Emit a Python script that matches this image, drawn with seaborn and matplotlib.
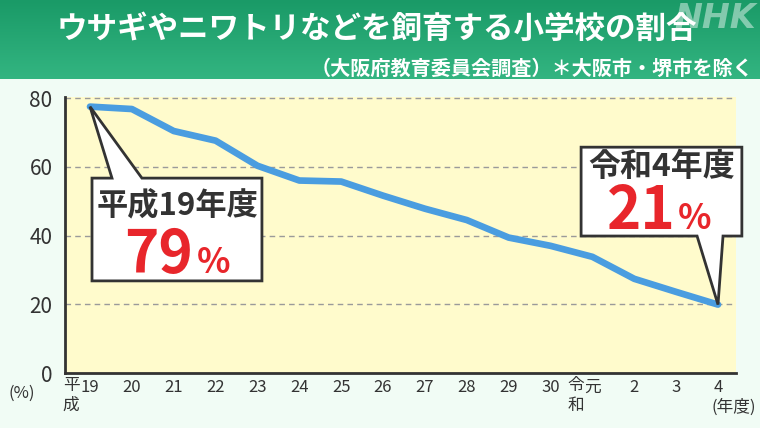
import numpy as np
import pandas as pd
import matplotlib
matplotlib.use("Agg")
import matplotlib.pyplot as plt
from matplotlib.patches import Polygon
from matplotlib.colors import LinearSegmentedColormap
import seaborn as sns

# ---- data ----
years = ["19", "20", "21", "22", "23", "24", "25", "26", "27", "28", "29", "30", "元", "2", "3", "4"]
share = [77.5, 76.8, 70.4, 67.6, 60.3, 56.0, 55.7, 51.6, 47.8, 44.5, 39.4, 37.0, 33.8, 27.4, 23.6, 19.9]
yticks = [0, 20, 40, 60, 80]
title = "ウサギやニワトリなどを飼育する小学校の割合"
subtitle = "（大阪府教育委員会調査）＊大阪市・堺市を除く"
first_label, first_value = "平成19年度", "79"
last_label, last_value = "令和4年度", "21"

df = pd.DataFrame({"idx": np.arange(len(years)), "share": share})

sns.set_theme(style="white")
plt.rcParams["font.family"] = ["Noto Sans CJK JP", "DejaVu Sans"]

W, H = 760, 428
fig = plt.figure(figsize=(W / 100, H / 100), dpi=100)
fig.patch.set_facecolor("#f1fcf5")

# header band with gradient
hdr = fig.add_axes([0, 1 - 79 / H, 1, 79 / H])
grad = np.linspace(0, 1, 100).reshape(-1, 1)
cmap = LinearSegmentedColormap.from_list("g", ["#1a9a67", "#33b581"])
hdr.imshow(grad, aspect="auto", cmap=cmap, extent=[0, 1, 0, 1], origin="upper")
hdr.set_axis_off()

fig.text(756 / W, 1 - 18 / H, "NHK", color="white", alpha=0.45, fontsize=24,
         fontweight="bold", style="italic", ha="right", va="center", family="DejaVu Sans")
fig.text(377 / W, 1 - 29 / H, title, color="white", fontsize=22, fontweight="bold",
         ha="center", va="center")
fig.text(753 / W, 1 - 68 / H, subtitle, color="white", fontsize=14.5, fontweight="bold",
         ha="right", va="center")

# plot axes
ax = fig.add_axes([65 / W, 1 - 373 / H, (736 - 65) / W, (373 - 97) / H])
ax.set_facecolor("#fffbcc")
sns.lineplot(data=df, x="idx", y="share", ax=ax, color="#4a9de0", linewidth=4.8, zorder=3)
ax.set_xlim(-0.597, 15.43)
ax.set_ylim(0, 80.3)
ax.set_yticks(yticks)
ax.set_yticklabels([str(v) for v in yticks], fontsize=15, color="#333333")
ax.set_xticks(np.arange(len(years)))
ax.set_xticklabels(years, fontsize=12, color="#333333")
ax.tick_params(axis="both", length=0)
ax.tick_params(axis="y", pad=9)
ax.tick_params(axis="x", pad=4)
ax.set_xlabel("")
ax.set_ylabel("")
for v in yticks[1:]:
    ax.axhline(v, color="#9a9a9a", lw=1, ls=(0, (4, 3)), zorder=1)
for s in ["top", "right"]:
    ax.spines[s].set_visible(False)
for s in ["left", "bottom"]:
    ax.spines[s].set_color("#333333")
    ax.spines[s].set_linewidth(2)

# era prefixes under/left of tick labels
tr = ax.get_xaxis_transform()
fs = 12
ax.text(0 - 0.25, -0.047, "平", transform=tr, fontsize=fs, color="#333333", ha="right", va="center")
ax.text(0 - 0.25, -0.118, "成", transform=tr, fontsize=fs, color="#333333", ha="right", va="center")
ax.text(12 - 0.2, -0.047, "令", transform=tr, fontsize=fs, color="#333333", ha="right", va="center")
ax.text(12 - 0.2, -0.118, "和", transform=tr, fontsize=fs, color="#333333", ha="right", va="center")
ax.text(15.38, -0.125, "(年度)", transform=tr, fontsize=fs, color="#333333", ha="center", va="center")
fig.text(22 / W, 1 - 393 / H, "(%)", fontsize=12, color="#333333", ha="center", va="center")

# callout 1
x0, y0 = df["idx"].iloc[0], df["share"].iloc[0]
b1 = [(0.048, 56.7), (0.525, 56.7), (x0, y0), (1.24, 56.7), (4.107, 56.7), (4.107, 26.8), (0.048, 26.8)]
ax.add_patch(Polygon(b1, closed=True, facecolor="white", edgecolor="#333333", lw=2,
                     zorder=5, clip_on=False, joinstyle="miter"))
ax.text(2.08, 48.6, first_label, fontsize=22.5, fontweight="bold", color="#333333",
        ha="center", va="center", zorder=6)
ax.text(2.45, 29.0, first_value, fontsize=42, fontweight="bold", color="#e8262b",
        ha="right", va="baseline", zorder=6)
ax.text(2.55, 29.0, "%", fontsize=25, fontweight="bold", color="#e8262b",
        ha="left", va="baseline", zorder=6)

# callout 2
x1, y1 = df["idx"].iloc[-1], df["share"].iloc[-1]
b2 = [(11.73, 65.7), (15.57, 65.7), (15.57, 39.85), (15.12, 39.85), (x1, y1), (14.5, 39.85), (11.73, 39.85)]
ax.add_patch(Polygon(b2, closed=True, facecolor="white", edgecolor="#333333", lw=2,
                     zorder=5, clip_on=False, joinstyle="miter"))
ax.text(13.65, 60.0, last_label, fontsize=23, fontweight="bold", color="#333333",
        ha="center", va="center", zorder=6)
ax.text(14.0, 41.8, last_value, fontsize=42, fontweight="bold", color="#e8262b",
        ha="right", va="baseline", zorder=6)
ax.text(14.05, 41.8, "%", fontsize=25, fontweight="bold", color="#e8262b",
        ha="left", va="baseline", zorder=6)

fig.savefig("out.png", dpi=100, facecolor=fig.get_facecolor())
